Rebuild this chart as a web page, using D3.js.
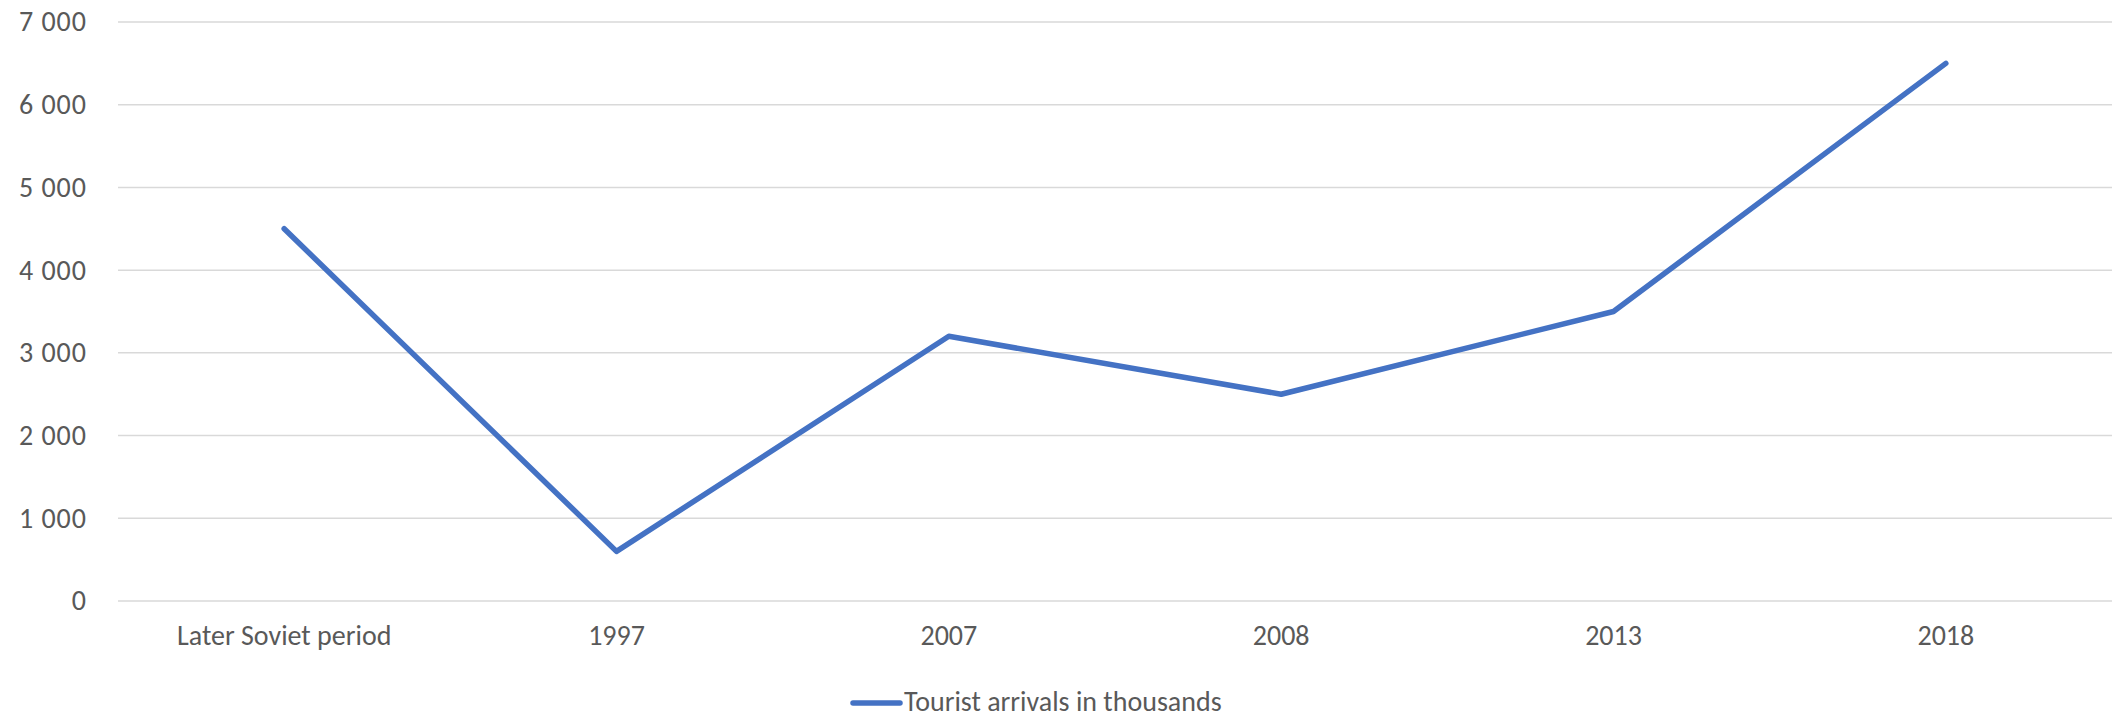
<!DOCTYPE html>
<html><head><meta charset="utf-8">
<script src="https://cdn.jsdelivr.net/npm/d3@7"></script>
<style>body{margin:0;background:#fff;} svg{display:block;}</style>
</head><body>
<svg id="c" width="2116" height="719"></svg>
<script>
const categories = ["Later Soviet period","1997","2007","2008","2013","2018"];
const values = [4500, 600, 3200, 2500, 3500, 6500];
const yTicks = [0,1000,2000,3000,4000,5000,6000,7000];
const seriesName = "Tourist arrivals in thousands";

const W=2116,H=719;
const m={left:118,right:4,top:22,bottom:118};
const svg=d3.select("#c");
const font="Carlito, Calibri, 'Open Sans', sans-serif";
const fs=28;
const textCol="#595959";
const x=d3.scaleBand().domain(categories).range([m.left,W-m.right]);
const y=d3.scaleLinear().domain([0,7000]).range([H-m.bottom,m.top]);
const fmt=v=>d3.format(",")(v).replace(/,/g," ");

svg.append("g").selectAll("line").data(yTicks).join("line")
  .attr("x1",m.left).attr("x2",W-m.right)
  .attr("y1",d=>y(d)).attr("y2",d=>y(d))
  .attr("stroke","#d9d9d9").attr("stroke-width",1.5);

const yAxis=svg.append("g").attr("transform",`translate(${m.left},0)`)
  .call(d3.axisLeft(y).tickValues(yTicks).tickFormat(fmt).tickSize(0).tickPadding(31));
yAxis.select(".domain").remove();
yAxis.selectAll("text").attr("font-family",font).attr("font-size",fs).attr("fill",textCol)
  .attr("letter-spacing",1);

const xAxis=svg.append("g").attr("transform",`translate(0,${H-m.bottom})`)
  .call(d3.axisBottom(x).tickSize(0).tickPadding(24));
xAxis.select(".domain").remove();
xAxis.selectAll("text").attr("font-family",font).attr("font-size",fs).attr("fill",textCol);

const line=d3.line().x((d,i)=>x(categories[i])+x.bandwidth()/2).y(d=>y(d));
svg.append("path").datum(values).attr("d",line)
  .attr("fill","none").attr("stroke","#4472C4").attr("stroke-width",5.5)
  .attr("stroke-linejoin","round").attr("stroke-linecap","round");

const lg=svg.append("g");
lg.append("line").attr("x1",853).attr("x2",900).attr("y1",703).attr("y2",703)
  .attr("stroke","#4472C4").attr("stroke-width",5.5).attr("stroke-linecap","round");
lg.append("text").attr("x",904).attr("y",711).text(seriesName)
  .attr("font-family",font).attr("font-size",fs).attr("fill",textCol);
</script>
</body></html>
